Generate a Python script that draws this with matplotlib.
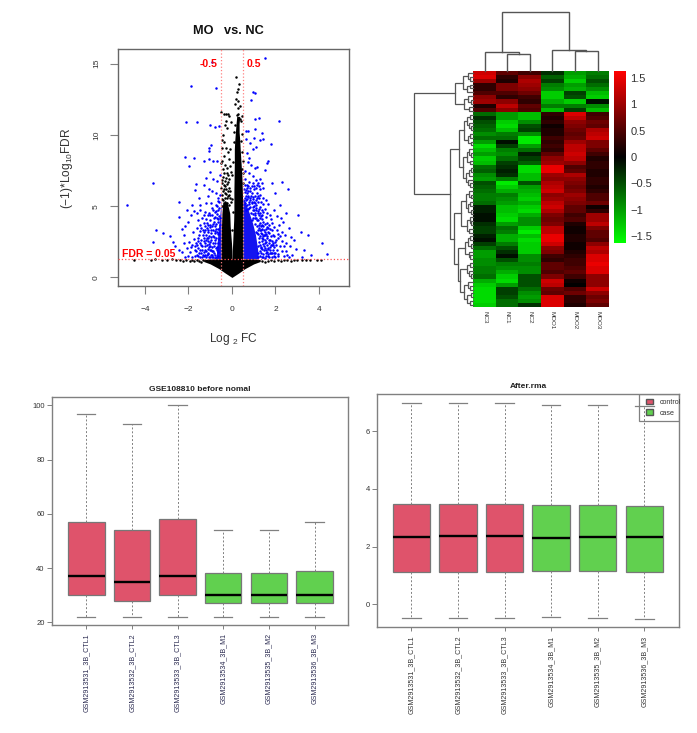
import matplotlib
matplotlib.use("Agg")
import matplotlib.pyplot as plt
import numpy as np
from matplotlib.colors import LinearSegmentedColormap
from matplotlib.patches import Patch, Rectangle

plt.rcParams['font.family'] = ['Liberation Sans', 'DejaVu Sans']
plt.rcParams['mathtext.default'] = 'regular'

W, H = 697, 733
fig = plt.figure(figsize=(W / 100, H / 100), dpi=100, facecolor='white')


def axpx(x0, y0, x1, y1):
    return fig.add_axes([x0 / W, 1 - y1 / H, (x1 - x0) / W, (y1 - y0) / H])


# ---------- volcano data ----------
BLUE_SPARSE = [(-4.84,5.08),(-3.65,6.65),(-1.89,13.4),(-2.11,10.9),(-1.62,10.94),(-.74,13.28),(-.93,15.15),(1.52,15.43),
 (.98,13.04),(1.07,12.93),(.86,12.46),(2.18,11),(1.24,11.2),(1.06,11.1),(-1.01,10.7),(-.8,10.54),(-.6,10.6),(-2.16,8.43),
 (-1.75,8.38),(-1.96,7.82),(-.98,9.3),(-1.05,9.1),(-1.07,8.9),(-1.27,8.17),(-1.05,8.3),(-.86,8.15),(-.68,8.2),(-1.67,6.56),
 (-1.7,6.11),(-2.45,5.3),(-2.08,4.73),(-2.42,4.24),(-3.49,3.33),(-3.16,3.11),(-2.85,2.9),(-3.65,2.46),(-2.7,2.5),(4.12,2.39),
 (4.38,1.64),(3.62,1.57),(3.49,2.97),(3.16,3.19),(3.05,4.4),(2.56,6.18),(2.31,6.67),(1.82,6.65),(2.0,5.9),(2.2,5.1),(2.5,4.54),
 (1.78,9.34),(1.67,8.2),(1.6,8.06),(1.52,7.55),(1.13,7.75),(1.36,10.16),(1.28,9.65),(1.1,9.15),(.98,9),(.68,8.75),(.66,10.3),
 (.72,10.3),(1.06,10.45),(1.43,9.7),(1.0,9.8),(.85,9.45),(.8,8.4),(.88,7.9),(.75,8.1),(1.05,7.7),(.64,9.7),(.6,7.5),(.95,7.1),
 (1.3,6.9),(1.2,6.6),(1.42,6.3),(1.02,6.4),(.8,6.7),(.7,6.3),(.62,6.9),(-.55,7.2),(-.68,6.8),(-.85,6.9),(-1.0,7.4),(-1.2,6.95),
 (-1.3,6.5),(-1.05,6.2),(-.9,6.05),(-.72,5.9),(-1.5,5.6),(-1.1,5.7),(-.62,5.6),(-1.85,5.05),(-1.45,5.1),(-1.2,5.25),(-.95,5.25),
 (-.75,5.1),(-2.6,2.2),(-2.3,3.4),(-2.2,3.0),(-2.15,3.6),(-2.45,1.9),(-2.3,1.8),(-2.2,2.4),(-2.05,2.05),(-2.0,3.9),(-1.9,4.4),
 (-1.75,4.65),(-1.6,4.5),(-1.45,4.7),(-1.25,4.6),(-1.05,4.55),(-.85,4.7),(2.35,3.9),(2.25,4.15),(2.15,3.7),(2.05,4.3),(1.95,4.7),
 (1.85,3.8),(1.75,4.35),(1.65,5.15),(1.55,5.45),(1.45,5.6),(1.3,5.8),(1.15,5.6),(.9,5.9),(.75,5.7),(2.6,3.45),(2.45,3.0),(2.7,2.85),
 (2.95,2.0),(3.3,1.9),(2.85,2.6),(2.65,2.2),(2.5,2.45),(2.3,2.55),(2.1,2.75),(2.05,3.3),(1.9,3.0),(2.3,1.85),(2.05,1.95),(2.55,1.6),
 (2.75,1.55),(3.2,1.45),(1.75,2.15),(1.65,3.5),(1.55,4.25),(1.45,3.9),(1.38,4.75),(1.28,4.95),(1.12,5.1),(1.02,5.3)]

BLUE_LEFT = [(-.62,1.5),(-.7,1.9),(-.75,1.4),(-.82,2.2),(-.9,1.6),(-.95,2.6),(-1.02,1.45),(-1.1,2.0),(-1.15,1.6),(-1.22,2.4),
 (-1.3,1.5),(-1.38,1.9),(-1.45,1.45),(-1.55,2.1),(-1.62,1.6),(-1.7,1.9),(-1.85,1.45),(-.66,2.4),(-.74,2.8),(-.8,3.1),(-.88,2.9),
 (-.97,3.3),(-1.04,2.9),(-1.12,3.2),(-1.2,3.0),(-1.28,2.75),(-1.34,3.3),(-1.42,2.6),(-1.5,3.0),(-1.58,2.8),(-1.66,2.45),(-1.75,2.7),
 (-1.82,2.3),(-1.92,1.8),(-1.98,2.5),(-1.78,3.2),(-1.62,3.5),(-.64,3.4),(-.72,3.75),(-.82,3.9),(-.9,3.6),(-1.0,4.0),(-1.08,3.7),
 (-1.18,4.1),(-1.28,3.8),(-1.38,4.2),(-1.48,3.65),(-1.55,4.0),(-.6,4.3),(-.68,4.45),(-.78,4.25),(-.93,4.35),(-1.12,4.35),(-1.3,4.4),
 (-.6,4.85),(-.7,5.0),(-.58,5.3),(-.85,1.85),(-.95,1.95),(-1.05,2.35),(-1.15,2.75),(-.78,1.6),(-.7,2.15),(-.6,2.7),(-.58,3.1),
 (-.66,3.05),(-.74,3.4),(-.85,3.35),(-.92,1.4),(-1.08,1.65),(-1.18,1.4),(-1.26,1.95),(-1.33,1.6),(-1.42,2.25),(-1.5,1.7),(-1.6,2.3),
 (-1.72,1.5),(-2.0,1.5),(-2.15,1.4),(-1.9,2.15),(-.56,3.7),(-.62,3.9),(-.56,4.2),(-.64,1.8),(-.76,2.45),(-.88,2.45),(-1.0,2.2),
 (-1.1,2.55),(-1.24,3.35),(-1.0,3.55),(-1.15,3.5),(-1.35,2.95),(-.8,4.6),(-.66,5.35),(-.55,5.8),
 (-.78,1.35),(-.82,1.75),(-.86,1.45),(-.92,1.85),(-.98,1.6),(-1.02,1.9),(-1.06,1.4),(-1.12,1.75),(-1.2,1.85),(-1.25,1.55),(-1.3,1.8),
 (-1.36,1.45),(-1.4,1.7),(-1.48,1.95),(-1.56,1.5),(-1.64,1.85),(-.75,2.1),(-.8,2.6),(-.84,2.85),(-.9,2.15),(-.94,2.85),(-1.0,2.5),
 (-1.06,2.15),(-1.1,2.8),(-1.16,2.3),(-1.2,2.65),(-1.26,2.2),(-1.3,2.55),(-1.38,2.2),(-1.46,2.45),(-1.54,2.55),(-1.7,2.2),(-.7,3.2),
 (-.76,3.6),(-.8,3.25),(-.88,3.75),(-.94,3.15),(-1.02,3.7),(-1.08,3.3),(-1.16,3.85),(-1.22,3.6),(-1.3,3.2),(-1.4,3.5),(-1.46,3.25),
 (-.62,4.1),(-.7,4.15),(-.74,4.65),(-.84,4.15),(-.9,4.85),(-1.0,4.4),(-.66,4.75)]

BLUE_RIGHT = [(1.3,1.5),(1.4,2.0),(1.45,1.45),(1.5,2.4),(1.55,1.7),(1.6,2.9),(1.68,1.5),(1.72,2.6),(1.8,1.7),(1.85,2.3),(1.92,1.5),
 (2.0,1.75),(2.12,1.5),(2.2,2.2),(1.45,2.7),(1.52,3.2),(1.58,1.9),(1.62,2.3),(1.7,3.1),(1.78,2.9),(1.84,3.35),(1.3,2.3),(1.36,2.8),
 (1.32,3.1),(1.38,3.4),(1.44,3.6),(1.25,3.5),(1.3,3.8),(1.36,4.1),(1.2,4.0),(1.25,4.35),(1.12,4.2),(1.18,4.65),(1.05,4.5),(1.1,4.9),
 (.95,4.7),(1.0,5.0),(.9,5.2),(.85,5.45),(.78,5.3),(.7,5.5),(.62,5.25),(.65,5.75),(.6,6.0),(.72,6.05),(.95,5.5),(1.05,5.75),(1.2,5.3),
 (1.4,4.4),(1.5,4.8),(1.6,3.85),(1.72,3.7),(1.8,4.1),(1.92,3.55),(1.98,2.5),(2.1,3.05),(2.2,2.9),(2.3,3.2),(2.4,2.2),(2.5,1.85),
 (2.38,1.5),(2.6,1.45),(1.2,1.7),(1.25,2.75),(1.15,3.1),(1.08,3.75),(.98,4.2),(.88,4.5),(.8,4.85),(.72,4.8),(.64,4.7),(1.35,1.75),
 (1.42,2.35),(1.48,2.95),(1.55,3.4),(1.65,1.65),(1.75,1.95),(1.88,1.95),(1.95,2.9),(2.02,2.3),(2.1,1.65),(1.28,4.2),(1.34,3.35),
 (1.62,4.55),(1.42,5.15),(1.32,5.3),(1.15,5.95),(.85,6.25),(1.1,6.3),(1.28,6.2),(.68,6.5),(.95,6.6),(1.1,6.85),(.78,7.3),
 (1.22,1.4),(1.28,1.85),(1.33,2.1),(1.38,1.4),(1.42,1.65),(1.47,1.9),(1.5,1.35),(1.54,2.1),(1.58,1.5),(1.62,1.8),(1.67,2.0),(1.7,1.4),
 (1.74,1.7),(1.78,2.3),(1.82,1.45),(1.86,1.7),(1.9,2.25),(1.94,1.75),(1.98,1.4),(2.04,2.6),(1.22,2.2),(1.26,2.5),(1.3,2.9),(1.34,2.15),
 (1.38,2.55),(1.42,2.9),(1.46,2.2),(1.5,2.65),(1.54,3.0),(1.58,2.5),(1.62,2.75),(1.66,2.1),(1.7,2.4),(1.76,2.65),(1.82,2.55),(1.88,2.4),
 (1.94,2.15),(1.1,3.2),(1.14,3.6),(1.18,3.3),(1.22,3.05),(1.24,3.7),(1.28,3.35),(1.32,3.6),(1.36,3.05),(1.4,3.7),(1.46,3.3),(1.5,3.75),
 (1.56,3.05),(1.6,3.55),(1.66,3.2),(1.76,3.4),(.92,4.05),(.96,4.45),(1.0,4.75),(1.04,4.15),(1.08,4.4),(1.12,4.7),(1.16,4.05),(1.2,4.5),
 (1.24,4.8),(1.3,4.55),(1.34,4.3),(1.45,4.6),(.85,4.95),(.95,4.95),(.7,5.1),(.75,5.65),(.8,5.15),(.82,5.55),(.88,5.7),(.92,5.3),(.98,5.65),
 (1.05,5.2),(1.1,5.45),(1.18,5.75),(1.25,5.55),(.64,5.45),(.68,5.9),(.6,5.55),(.55,6.2),(.6,6.5),(.65,6.15),(.74,6.4),(.82,6.05),(.9,6.4),
 (1.0,6.2),(1.15,6.5),(1.25,6.4),(1.38,6.6)]

# envelopes of the solid blue mass (|log2FC| just beyond the 0.5 cut)
BLUE_CORE_Y = [1.3, 2.0, 3.0, 3.8, 4.5, 5.0, 5.5]
BLUE_CORE_R = [1.22, 1.18, 1.08, .95, .8, .68, .58]
BLUE_CORE_L = [-.72, -.7, -.65, -.6, -.55, -.52, -.5]

# envelopes of the solid black mass
BLACK_R_Y = [1.25, 3.0, 4.0, 4.7, 6.0, 7.0, 8.0, 9.0, 9.6, 10.2, 10.8, 11.3]
BLACK_R_X0 = [0, .05, .08, .09, .09, .1, .11, .11, .13, .16, .19, .22]
BLACK_R_X1 = [.5, .5, .5, .5, .48, .46, .42, .38, .36, .33, .33, .36]
BLACK_L_Y = [1.25, 1.9, 2.4, 3.0, 3.6, 4.5, 5.3]
BLACK_L_X0 = [-.5, -.5, -.5, -.49, -.48, -.46, -.42]
BLACK_L_X1 = [0, 0, -.02, -.05, -.08, -.1, -.22]
WEDGE_X = [-1.3, -1, -.6, -.3, 0, .3, .6, 1, 1.3]
WEDGE_LO = [1.12, .95, .62, .3, 0, .3, .62, .95, 1.12]
WEDGE_HI = [1.25, 1.3, 1.3, 1.3, 1.3, 1.3, 1.3, 1.3, 1.25]

BLACK_PTS = [(.2,14.05),(.33,13.6),(.27,13.2),(.24,13),(.28,12.4),(.17,12.5),(.15,12.2),(.35,12),(.3,11.9),(-.48,11.6),(-.38,11.45),
 (-.25,11.5),(-.2,11.45),(-.12,11.3),(-.27,11),(-.05,10.9),(.45,11.3),(.42,10.95),(-.33,10.7),(-.22,10.5),(-.42,10),(-.46,9.65),(-.36,9.5),
 (-.47,9.1),(-.28,9.1),(-.2,8.8),(-.08,9),(-.15,8.3),(-.38,8.5),(-.45,8.2),(-.5,8.0),(-.3,7.9),(-.22,7.7),(-.1,7.8),(-.42,7.6),(-.35,7.3),
 (-.18,7.2),(-.06,7.4),(-.28,7.0),(-.46,6.85),(-.12,6.9),(-.38,6.5),(-.3,6.4),(-.22,6.55),(-.48,6.3),(-.15,6.3),(-.08,6.1),(-.42,6.05),
 (-.34,5.9),(-.26,5.85),(-.19,5.7),(-.1,5.6),(-.46,5.5),(-.4,5.4),(-.3,5.3),(-.22,5.25),(-.14,5.1),(-.06,5.3),(-.47,5.0),(-.37,4.9),
 (-.28,6.2),(-.44,6.65),(-.33,6.8),(-.17,6.7),(-.41,7.05),(-.24,7.35),(-.36,6.2),(-.2,6.05),(-.12,5.8),(-.32,5.6),(-.24,5.55),(-.44,5.8),
 (.0,5.5),(.03,4.6),(-.02,3.3),(.01,7.2),(.05,8.1),(.08,9.5),
 (.11,10.2),(.14,10.7),(.45,10.1),(.4,9.6),(.47,8.8),(.5,8.2),(.44,7.6),(.52,7.3),(.5,6.6),(.38,11.1),(.3,11.5),(.25,11.4),
 (-4.5,1.22),(-3.7,1.22),(-3.55,1.28),(-3.2,1.2),(-3.0,1.22),(-2.75,1.3),(-2.55,1.25),(-2.4,1.24),(-2.25,1.15),(-2.1,1.22),(-1.95,1.15),(-1.85,1.25),
 (-1.75,1.12),(-1.6,1.2),(-1.5,1.15),(-1.4,1.05),(4.1,1.25),(3.9,1.2),(3.6,1.22),(3.4,1.25),(3.2,1.2),(3.0,1.24),(2.85,1.22),(2.7,1.15),(2.55,1.2),
 (2.4,1.25),(2.25,1.18),(2.1,1.22),(1.95,1.12),(1.8,1.2),(1.65,1.15),(1.5,1.08),(-1.35,1.2),(1.4,1.18)]

FDR_LINE = 1.3
FC_CUT = 0.5

# ---------- heatmap data ----------
HEAT_COLS = ['NC3', 'NC1', 'NC2', 'MOO1', 'MOO2', 'MOO3']
HEAT = [
 [1.3,.6,.4,-.3,-1,-.8],[1.4,.3,.9,-.6,-1.1,-.7],[1.0,.2,1.1,-.4,-1.3,-.5],[.3,.8,1.0,-.8,-1.0,-.7],[.3,.8,.9,-.9,-1.1,-.9],
 [.5,.5,.7,-1.3,-.4,-1.2],[.9,.3,.4,-1.3,-.5,-1.3],[1.0,.9,.3,-1.1,-1.3,-.1],[.2,1.2,.6,-.8,-.8,-.9],[.5,.9,.5,-1.2,-.4,-1.2],
 [-.7,-1.0,-1.2,.3,1.4,.4],[-.3,-1.0,-1.2,.2,1.2,.5],[-.5,-1.3,-.9,.3,.9,.7],[-.6,-1.4,-.5,.1,.8,.6],[-.7,-1.2,-.4,.2,.7,1.1],
 [-.9,-.8,-.9,.2,.6,1.2],[-.7,-.7,-1.5,.4,.7,1.3],[-1.0,-.1,-1.5,.3,1.0,.8],[-1.4,-.4,-1.0,.4,1.2,.8],[-1.2,-.8,-.7,.3,1.2,.6],
 [-1.0,-.9,-.2,.6,1.3,.4],[-1.3,-.7,-.4,.9,1.2,.2],[-1.2,-.4,-.6,1.0,.9,.3],[-.7,-.3,-1.4,1.5,.5,.3],[-.6,-.2,-1.4,1.5,.6,.2],
 [-.9,-.3,-1.2,1.0,1.1,.2],[-1.0,-.8,-1.2,.9,.9,.3],[-.5,-1.5,-.5,1.1,.8,.3],[-.6,-1.3,-1.0,1.2,.7,.2],[-.7,-1.1,-1.1,1.3,.8,.3],
 [-.8,-.8,-1.2,.9,1.0,.5],[-.8,-.9,-1.3,1.0,.9,.5],[-.7,-1.0,-1.1,1.2,.8,.7],[-.2,-1.2,-1.3,1.3,.6,.1],[-.2,-1.2,-1.4,1.1,.6,.3],
 [-.1,-1.3,-1.1,.8,.4,1.0],[-.1,-1.4,-.9,.7,.5,1.0],[-.3,-1.0,-.9,.8,.2,1.2],[-.4,-.7,-1.3,1.2,.1,.8],[-.4,-.8,-1.5,1.2,.1,.6],
 [-.2,-1.1,-1.2,1.5,.2,.6],[-.1,-1.1,-1.4,1.5,.2,.5],[-.4,-.8,-1.3,1.3,.1,.9],[-.7,-.5,-1.3,.9,.1,1.2],[-1.0,-.3,-1.3,.8,.2,1.1],
 [-1.0,-.1,-.9,.4,.3,1.4],[-.9,-.5,-.9,.3,.4,1.4],[-.9,-.8,-.8,.6,.4,1.5],[-.8,-.9,-.9,.6,.5,1.4],[-.8,-1.1,-.9,.5,.6,1.4],
 [-.7,-1.3,-.5,.8,.4,.9],[-1.1,-1.4,-.5,1.3,.1,.9],[-1.3,-1.0,-.5,1.2,0,.9],[-1.4,-.4,-.7,.7,.5,1.3],[-1.4,-.4,-.9,.6,.7,.9],
 [-1.4,-.5,-1.0,1.4,.3,.7],[-1.4,-.7,-.9,1.4,.3,.8],[-1.3,-.7,-.3,1.4,.2,.6]]
HEAT_LIM = 1.63
CBAR_TICKS = [-1.5, -1, -.5, 0, .5, 1, 1.5]
CBAR_LABELS = ['\u22121.5', '\u22121', '\u22120.5', '0', '0.5', '1', '1.5']

# [height, left, right]; 0 = leaf
COL_TREE = [59.6, [19.6, 0, [17.3, 0, 0]], [21.3, 0, [20.6, 0, 0]]]
ROW_A = [18, [10, [5, 0, [3, 0, 0]], [6, [3, 0, 0], 0]], [9, [5, 0, [2, 0, 0]], [4, 0, 0]]]
ROW_B1 = [14, [9, [6, [3, 0, 0], [4, 0, [2, 0, 0]]], [5, [3, 0, 0], [2, 0, 0]]],
          [10, [6, [4, 0, [2, 0, 0]], [3, 0, 0]], [7, [4, [2, 0, 0], 0], [5, 0, [3, 0, 0]]]]]
ROW_B2 = [12, [7, [4, 0, [2, 0, 0]], [5, [3, 0, 0], [2, 0, 0]]], [6, [3, 0, [2, 0, 0]], [4, 0, 0]]]
ROW_B3 = [15, [8, [5, [3, 0, 0], [2, 0, 0]], [4, 0, [3, 0, 0]]],
          [13, [6, [3, 0, 0], [4, 0, [2, 0, 0]]], [9, [5, 0, [3, 0, 0]], [6, [2, 0, 0], [3, 0, 0]]]]]
ROW_TREE = [59.3, ROW_A, [23, ROW_B1, [19, ROW_B2, ROW_B3]]]

# ---------- boxplot data ----------
SAMPLES = ['GSM2913531_3B_CTL1', 'GSM2913532_3B_CTL2', 'GSM2913533_3B_CTL3',
           'GSM2913534_3B_M1', 'GSM2913535_3B_M2', 'GSM2913536_3B_M3']
RAW_LO = [22, 22, 22, 22, 22, 22]
RAW_Q1 = [30, 28, 30, 27, 27, 27]
RAW_MED = [37, 35, 37, 30, 30, 30]
RAW_Q3 = [57, 54, 58, 38, 38, 39]
RAW_HI = [97, 93, 100, 54, 54, 57]
RMA_LO = [-.46, -.48, -.49, -.45, -.48, -.51]
RMA_Q1 = [1.12, 1.12, 1.13, 1.14, 1.14, 1.12]
RMA_MED = [2.35, 2.36, 2.37, 2.31, 2.32, 2.32]
RMA_Q3 = [3.47, 3.47, 3.47, 3.45, 3.45, 3.42]
RMA_HI = [6.99, 6.99, 6.98, 6.9, 6.9, 6.87]
BOX_COLORS = ['#DF536B'] * 3 + ['#61D04F'] * 3
GREY = '#808080'
TXT = '#333333'

# ---------- volcano ----------
ax = axpx(117.7, 49, 349, 286)
ax.set_xlim(-5.25, 5.38)
ax.set_ylim(-0.6, 16.03)
ax.fill_betweenx(BLUE_CORE_Y, [FC_CUT] * len(BLUE_CORE_Y), BLUE_CORE_R, color='#1414f0', lw=0, zorder=1)
ax.fill_betweenx(BLUE_CORE_Y, BLUE_CORE_L, [-FC_CUT] * len(BLUE_CORE_Y), color='#1414f0', lw=0, zorder=1)
bp = np.array(BLUE_SPARSE + BLUE_LEFT + BLUE_RIGHT)
ax.scatter(bp[:, 0], bp[:, 1], s=3.2, c='#0000ff', linewidths=0, zorder=2)
kp = np.array(BLACK_PTS)
ax.scatter(kp[:, 0], kp[:, 1], s=3.2, c='black', linewidths=0, zorder=3)
ax.fill_betweenx(BLACK_R_Y, BLACK_R_X0, BLACK_R_X1, color='black', lw=0, zorder=3)
ax.fill_betweenx(BLACK_L_Y, BLACK_L_X0, BLACK_L_X1, color='black', lw=0, zorder=3)
ax.fill_between(WEDGE_X, WEDGE_LO, WEDGE_HI, color='black', lw=0, zorder=3)
ax.axhline(FDR_LINE, color='#ff5050', ls=':', lw=.9, zorder=4)
ax.axvline(-FC_CUT, color='#ff8080', ls=':', lw=.9, zorder=4)
ax.axvline(FC_CUT, color='#ff8080', ls=':', lw=.9, zorder=4)
ax.text(-1.07, 14.97, '-0.5', color='red', fontsize=7.5, fontweight='bold', ha='center', va='center')
ax.text(1.02, 15.0, '0.5', color='red', fontsize=7.5, fontweight='bold', ha='center', va='center')
ax.text(-5.04, 1.64, 'FDR = 0.05', color='red', fontsize=7.5, fontweight='bold', ha='left', va='center')
ax.set_xticks([-4, -2, 0, 2, 4], ['\u22124', '\u22122', '0', '2', '4'])
ax.set_yticks([0, 5, 10, 15], ['0', '5', '10', '15'])
ax.tick_params(axis='x', labelsize=6, length=5.8, width=.8, color=GREY, labelcolor=TXT, pad=8.5)
ax.tick_params(axis='y', labelsize=6, length=5.8, width=.8, color=GREY, labelcolor=TXT, pad=7)
for t in ax.get_yticklabels():
    t.set_rotation(90)
    t.set_va('center')
for s in ax.spines.values():
    s.set_color('#666666')
    s.set_linewidth(1.0)
fig.text(228.7 / W, 1 - 31 / H, 'MO   vs. NC', fontsize=9.2, fontweight='bold', ha='center', va='center', color='#111111')
fig.text(233 / W, 1 - 339 / H, 'Log $_{2}$ FC', fontsize=8.6, ha='center', va='center', color=TXT)
fig.text(67 / W, 1 - 168 / H, '(\u22121)*Log$_{10}$FDR', fontsize=8.6, ha='center', va='center', rotation=90, color=TXT)

# ---------- heatmap ----------
cmap = LinearSegmentedColormap.from_list('gkr', ['#00ff00', '#000000', '#ff0000'])
ax = axpx(473.3, 71.3, 609, 306.7)
ax.imshow(np.array(HEAT), cmap=cmap, vmin=-HEAT_LIM, vmax=HEAT_LIM, aspect='auto', interpolation='nearest')
ax.set_yticks([])
ax.set_xticks(range(len(HEAT_COLS)), HEAT_COLS, rotation=270, fontsize=4.5, color=TXT)
ax.tick_params(axis='x', length=0, pad=3)
for s in ax.spines.values():
    s.set_visible(False)


def leaves(t):
    return 1 if t == 0 else leaves(t[1]) + leaves(t[2])


def draw_tree(axis, t, start, horizontal, scale):
    if t == 0:
        return start * scale + scale / 2, 0, start + 1
    p1, h1, nxt = draw_tree(axis, t[1], start, horizontal, scale)
    p2, h2, nxt = draw_tree(axis, t[2], nxt, horizontal, scale)
    h = t[0]
    a = [p1, p1, p2, p2]
    b = [h1, h, h, h2]
    if horizontal:
        axis.plot(a, b, color='#555555', lw=1.0, solid_joinstyle='miter', clip_on=False)
    else:
        axis.plot(b, a, color='#555555', lw=.9, solid_joinstyle='miter', clip_on=False)
    return (p1 + p2) / 2, h, nxt


ax = axpx(473.3, 11.7, 609, 71.3)
ax.set_xlim(0, 6)
ax.set_ylim(0, 59.6)
draw_tree(ax, COL_TREE, 0, True, 1.0)
ax.axis('off')

ax = axpx(414, 71.3, 473.3, 306.7)
ax.set_xlim(59.3, 0)
ax.set_ylim(1, 0)
draw_tree(ax, ROW_TREE, 0, False, 1.0 / leaves(ROW_TREE))
ax.axis('off')

ax = axpx(614, 71.3, 625.7, 243)
grad = np.linspace(HEAT_LIM, -HEAT_LIM, 256).reshape(-1, 1)
ax.imshow(grad, cmap=cmap, vmin=-HEAT_LIM, vmax=HEAT_LIM, aspect='auto',
          extent=[0, 1, -HEAT_LIM, HEAT_LIM])
ax.set_xticks([])
ax.yaxis.tick_right()
ax.set_yticks(CBAR_TICKS, CBAR_LABELS)
ax.tick_params(axis='y', length=0, pad=3.5, labelsize=8, labelcolor=TXT)
for s in ax.spines.values():
    s.set_visible(False)


# ---------- boxplots ----------
def boxes(rect, xlim, ylim, lo, q1, med, q3, hi, yticks, title, label_color, tx, ty):
    a = axpx(*rect)
    stats = [dict(whislo=l, q1=b, med=m, q3=c, whishi=h, fliers=[]) for l, b, m, c, h in zip(lo, q1, med, q3, hi)]
    art = a.bxp(stats, positions=range(1, 7), widths=.8, patch_artist=True, showfliers=False,
                boxprops=dict(edgecolor='#777777', linewidth=.9),
                medianprops=dict(color='black', linewidth=1.7, solid_capstyle='butt'),
                whiskerprops=dict(color='#808080', linewidth=.7, linestyle=(0, (2, 2))),
                capprops=dict(color='#808080', linewidth=.9), capwidths=.4)
    for patch, c in zip(art['boxes'], BOX_COLORS):
        patch.set_facecolor(c)
    a.set_xlim(*xlim)
    a.set_ylim(*ylim)
    a.set_xticks(range(1, 7), SAMPLES, rotation=90, fontsize=5.1, color=label_color)
    a.set_yticks(yticks, [str(v) for v in yticks], fontsize=5.5, color=TXT)
    a.tick_params(axis='x', length=3, width=.7, color=GREY, pad=3)
    a.tick_params(axis='y', length=3.5, width=.7, color=GREY, pad=2)
    for s in a.spines.values():
        s.set_color(GREY)
        s.set_linewidth(1.0)
    fig.text(tx / W, 1 - ty / H, title, fontsize=6, fontweight='bold', ha='center', va='center', color='#222222')
    return a


boxes((52.3, 397.3, 348.3, 625), (.255, 6.74), (19.0, 103.0), RAW_LO, RAW_Q1, RAW_MED, RAW_Q3, RAW_HI,
      [20, 40, 60, 80, 100], 'GSE108810 before nomal', '#2a2a50', 200, 389)
a2 = boxes((377.3, 394.3, 679.3, 627.3), (.27, 6.75), (-.795, 7.28), RMA_LO, RMA_Q1, RMA_MED, RMA_Q3, RMA_HI,
           [0, 2, 4, 6], 'After.rma', TXT, 528, 386)
a2.add_patch(Rectangle(((639.3 - 377.3) / 302, 1 - (421 - 394.3) / 233), 40 / 302, (421 - 394.3) / 233,
                       transform=a2.transAxes, fill=False, edgecolor=GREY, linewidth=.9, zorder=6))
leg = a2.legend(handles=[Patch(facecolor='#DF536B', edgecolor='#555555', label='control'),
                         Patch(facecolor='#61D04F', edgecolor='#555555', label='case')],
                loc='upper left', bbox_to_anchor=((646 - 377.3) / 302, 1 - (398.5 - 394.3) / 233), borderaxespad=0,
                borderpad=0, fontsize=5.1, frameon=False, handlelength=1.0, handleheight=.9, handletextpad=1.0,
                labelspacing=.5, labelcolor=TXT)

fig.savefig('out.png', dpi=100)
